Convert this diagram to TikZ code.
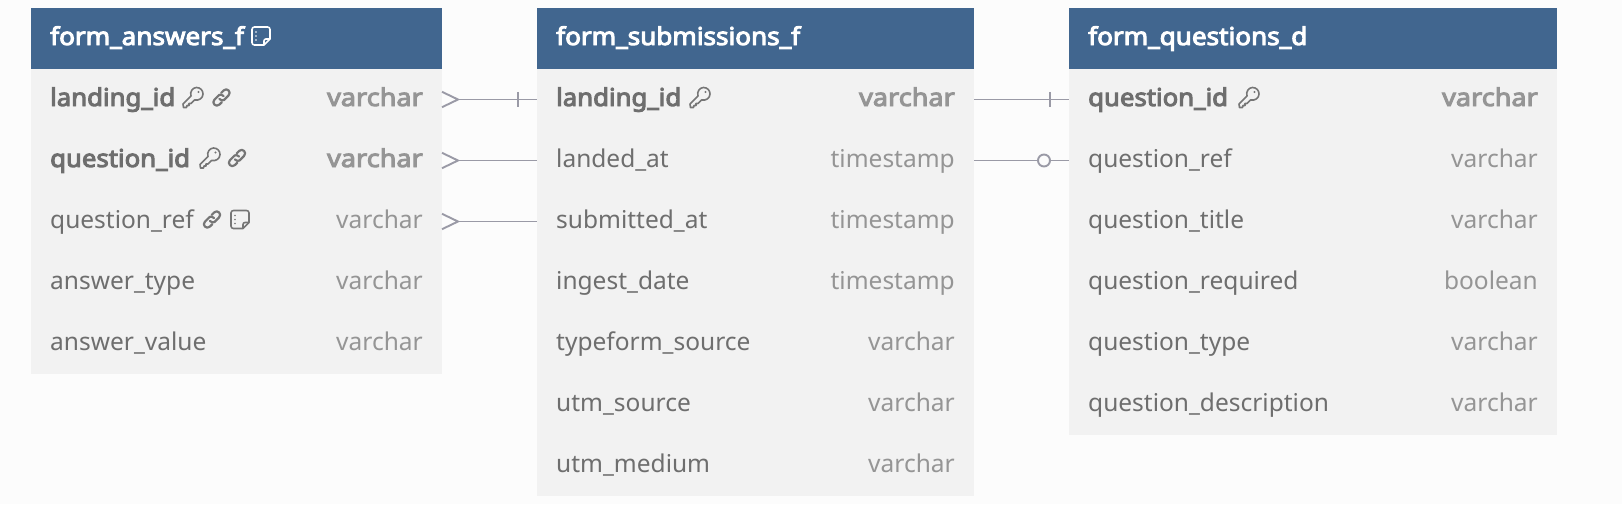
\documentclass[tikz,border=0pt]{standalone}
\usepackage{fontspec}
\setmainfont{Noto Sans}[BoldFont={Noto Sans},BoldFeatures={FakeBold=4,FakeStretch=1.05}]
\newfontfamily\titlefont{Noto Sans}[FakeBold=4,FakeStretch=1.065]
\newfontfamily\ptypefont{Noto Sans}[FakeBold=4,FakeStretch=1.105]
\definecolor{bgc}{HTML}{FCFCFC}
\definecolor{headc}{HTML}{41668F}
\definecolor{rowc}{HTML}{F2F2F2}
\definecolor{namec}{HTML}{6E6E6E}
\definecolor{typec}{HTML}{959595}
\definecolor{linec}{HTML}{9A9AA6}
\definecolor{iconc}{HTML}{767676}
\tikzset{
  x=1pt,y=-1pt,
  head/.style={fill=headc,draw=none,inner sep=0,outer sep=0,anchor=north west,minimum height=61pt},
  rowbox/.style={fill=rowc,draw=none,inner sep=0,outer sep=0,anchor=north west,minimum height=61pt},
  title/.style={anchor=base west,inner sep=0,text=white,font=\titlefont\fontsize{24.5}{28}\selectfont},
  fname/.style={anchor=base west,inner sep=0,text=namec,font=\fontsize{24.5}{28}\selectfont},
  pname/.style={anchor=base west,inner sep=0,text=namec,font=\fontsize{24.5}{28}\selectfont\bfseries},
  ftype/.style={anchor=base east,inner sep=0,text=typec,font=\fontsize{24.5}{28}\selectfont},
  ptype/.style={anchor=base east,inner sep=0,text=typec,font=\ptypefont\fontsize{24.5}{28}\selectfont},
  rel/.style={draw=linec,line width=1.9pt},
  ico/.style={draw=iconc,line width=1.6pt,line join=round,line cap=round},
  keyicon/.pic={
    \draw[ico] (-2,-1.5) .. controls (-3.5,-6) and (0,-10) .. (3.5,-10)
      .. controls (7.5,-10) and (10,-7) .. (10,-3.5)
      .. controls (10,0.5) and (6,3.5) .. (1.5,2.5)
      -- (-2,6) -- (-4,6) -- (-4,8) -- (-6,8) -- (-6.5,10) -- (-9.5,10) -- (-10,6.5) -- cycle;
    \fill[iconc] (5.5,-5.5) circle (1.2);
  },
  linkicon/.pic={
    \begin{scope}[rotate=45]
      \draw[ico,line width=2.2pt] (2.5,0.5) .. controls (2.5,-1.5) and (1.5,-3.5) .. (0,-3.5) -- (-6.5,-3.5)
        .. controls (-11.2,-3.5) and (-11.2,3.5) .. (-6.5,3.5) -- (-3,3.5);
      \draw[ico,line width=2.2pt] (-2.5,-0.5) .. controls (-2.5,1.5) and (-1.5,3.5) .. (0,3.5) -- (6.5,3.5)
        .. controls (11.2,3.5) and (11.2,-3.5) .. (6.5,-3.5) -- (3,-3.5);
    \end{scope}
  },
  noteline/.style={draw=#1,line width=1.6pt,line join=round},
  notepic/.pic={
    \draw[noteline=#1] (-9,-6.5) .. controls (-9,-8) and (-8,-9) .. (-6.5,-9) -- (6.5,-9)
      .. controls (8,-9) and (9,-8) .. (9,-6.5) -- (9,3) -- (3,9) -- (-6.5,9)
      .. controls (-8,9) and (-9,8) .. (-9,6.5) -- cycle;
    \draw[noteline=#1] (9,3) -- (5,3) .. controls (3.8,3) and (3,3.8) .. (3,5) -- (3,9);
    \fill[#1] (-5,-4) circle (0.8) (-5,0) circle (0.8) (-5,4) circle (0.8);
  },
}
\newcommand{\tablerows}[4]{% prefix, x, width, count
  \foreach \i in {1,...,#4} {
    \node[rowbox,minimum width=#3pt] (#1\i) at (#2,{69+61*(\i-1)}) {};
  }
}
\begin{document}
\begin{tikzpicture}
\useasboundingbox (0,0) rectangle (1622,504);
\fill[bgc] (0,0) rectangle (1622,504);

% form_answers_f
\node[head,minimum width=411pt] (ah) at (31,8.3) {};
\tablerows{a}{31}{411}{5}
\node[title] (at) at (50,45) {form\_answers\_f};
\pic at (261,36) {notepic={white}};
\node[pname] (an1) at (50,106) {landing\_id};
\node[pname] (an2) at (50,167) {question\_id};
\node[fname] (an3) at (50,228) {question\_ref};
\node[fname] (an4) at (50,289) {answer\_type};
\node[fname] (an5) at (50,350) {answer\_value};
\node[ptype] (at1) at (423,106) {varchar};
\node[ptype] (at2) at (423,167) {varchar};
\node[ftype] (at3) at (423,228) {varchar};
\node[ftype] (at4) at (423,289) {varchar};
\node[ftype] (at5) at (423,350) {varchar};
\pic at (193,97.5) {keyicon};
\pic at (221.5,97.5) {linkicon};
\pic at (210,158) {keyicon};
\pic at (237,158) {linkicon};
\pic at (212,219.5) {linkicon};
\pic at (240,219.5) {notepic={iconc}};

% form_submissions_f
\node[head,minimum width=437pt] (sh) at (537,8.3) {};
\tablerows{s}{537}{437}{7}
\node[title] (st) at (556,45) {form\_submissions\_f};
\node[pname] (sn1) at (556,106) {landing\_id};
\node[fname] (sn2) at (556,167) {landed\_at};
\node[fname] (sn3) at (556,228) {submitted\_at};
\node[fname] (sn4) at (556,289) {ingest\_date};
\node[fname] (sn5) at (556,350) {typeform\_source};
\node[fname] (sn6) at (556,411) {utm\_source};
\node[fname] (sn7) at (556,472) {utm\_medium};
\node[ptype] (stt1) at (955,106) {varchar};
\node[ftype] (stt2) at (955,167) {timestamp};
\node[ftype] (stt3) at (955,228) {timestamp};
\node[ftype] (stt4) at (955,289) {timestamp};
\node[ftype] (stt5) at (955,350) {varchar};
\node[ftype] (stt6) at (955,411) {varchar};
\node[ftype] (stt7) at (955,472) {varchar};
\pic at (700,97.5) {keyicon};

% form_questions_d
\node[head,minimum width=488pt] (qh) at (1069,8.3) {};
\tablerows{q}{1069}{488}{6}
\node[title] (qt) at (1088,45) {form\_questions\_d};
\node[pname] (qn1) at (1088,106) {question\_id};
\node[fname] (qn2) at (1088,167) {question\_ref};
\node[fname] (qn3) at (1088,228) {question\_title};
\node[fname] (qn4) at (1088,289) {question\_required};
\node[fname] (qn5) at (1088,350) {question\_type};
\node[fname] (qn6) at (1088,411) {question\_description};
\node[ptype] (qt1) at (1538,106) {varchar};
\node[ftype] (qt2) at (1538,167) {varchar};
\node[ftype] (qt3) at (1538,228) {varchar};
\node[ftype] (qt4) at (1538,289) {boolean};
\node[ftype] (qt5) at (1538,350) {varchar};
\node[ftype] (qt6) at (1538,411) {varchar};
\pic at (1249,97.5) {keyicon};

% connectors
\foreach \r in {1,2,3} {
  \draw[rel] ([xshift=16pt]a\r.east) -- (s\r.west);
  \draw[rel] ([yshift=7.7pt]a\r.east) -- ([xshift=16pt]a\r.east) -- ([yshift=-7.7pt]a\r.east);
}
\draw[rel] ([xshift=-19pt,yshift=7.7pt]s1.west) -- ([xshift=-19pt,yshift=-7.7pt]s1.west);
\draw[rel] (s1.east) -- (q1.west);
\draw[rel] ([xshift=-19pt,yshift=7.7pt]q1.west) -- ([xshift=-19pt,yshift=-7.7pt]q1.west);
\draw[rel] (s2.east) -- (q2.west);
\draw[rel,fill=bgc] ([xshift=-25pt]q2.west) circle (6pt);
\end{tikzpicture}
\end{document}
